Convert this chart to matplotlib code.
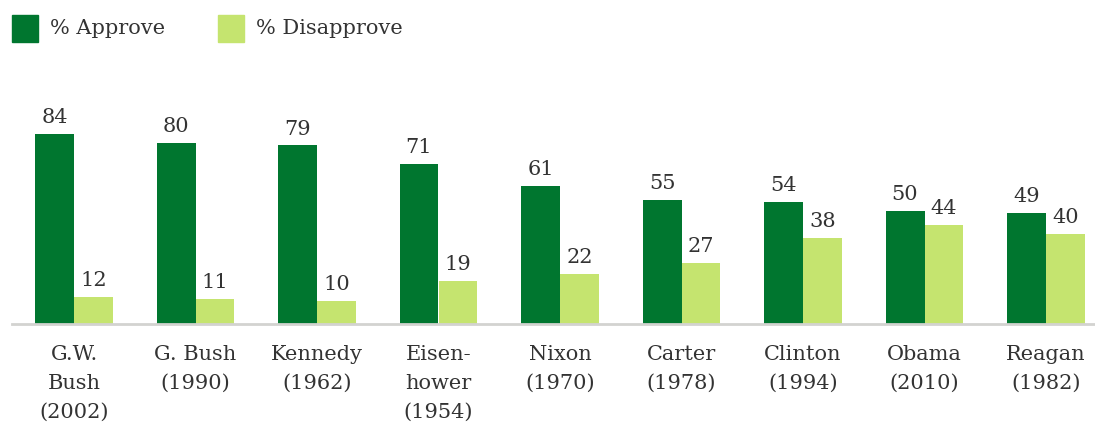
import matplotlib.pyplot as plt
from matplotlib.patches import Rectangle
import numpy as np

# Presidential approval, approve vs disapprove
presidents = ["G.W.\nBush\n(2002)", "G. Bush\n(1990)", "Kennedy\n(1962)", "Eisen-\nhower\n(1954)",
              "Nixon\n(1970)", "Carter\n(1978)", "Clinton\n(1994)", "Obama\n(2010)", "Reagan\n(1982)"]
approve = [84, 80, 79, 71, 61, 55, 54, 50, 49]
disapprove = [12, 11, 10, 19, 22, 27, 38, 44, 40]
series_names = ["% Approve", "% Disapprove"]

dark_green = "#00762f"
light_green = "#c5e46f"
text_col = "#333333"

plt.rcParams['font.family'] = ['DejaVu Serif']

fig = plt.figure(figsize=(10.95, 4.26), dpi=100)
W, H = 1095, 426
# axes spans from x=12px to right edge, baseline at y=324px from top
ax = fig.add_axes([12 / W, (H - 324) / H, (W - 12) / W, 224 / H])

x = np.arange(len(presidents))
w = 0.32
b1 = ax.bar(x - w / 2, approve, w, color=dark_green)
b2 = ax.bar(x + w / 2, disapprove, w, color=light_green)

for bars, vals in ((b1, approve), (b2, disapprove)):
    for bar, v in zip(bars, vals):
        ax.annotate(str(v), (bar.get_x() + bar.get_width() / 2, v),
                    xytext=(0, 5), textcoords="offset points",
                    ha="center", va="bottom", fontsize=15, color=text_col)

ax.set_xlim((12 - 74) / 121.5, (W - 74) / 121.5)
ax.set_ylim(0, 224 / 2.26)
ax.set_xticks(x)
ax.set_xticklabels(presidents, fontsize=15, color=text_col, linespacing=1.68)
ax.tick_params(axis="x", length=0, pad=15)
ax.set_yticks([])
for s in ("top", "right", "left"):
    ax.spines[s].set_visible(False)
ax.spines["bottom"].set_color("#d3d3d0")
ax.spines["bottom"].set_linewidth(2)

# legend squares and labels along the top
for left, col, name in zip([12, 218], [dark_green, light_green], series_names):
    fig.add_artist(Rectangle((left / W, (H - 42) / H), 26 / W, 27 / H,
                             transform=fig.transFigure, color=col))
    fig.text((left + 38) / W, (H - 28) / H, name, fontsize=15, color=text_col,
             ha="left", va="center")

fig.savefig("out.png", dpi=100)
